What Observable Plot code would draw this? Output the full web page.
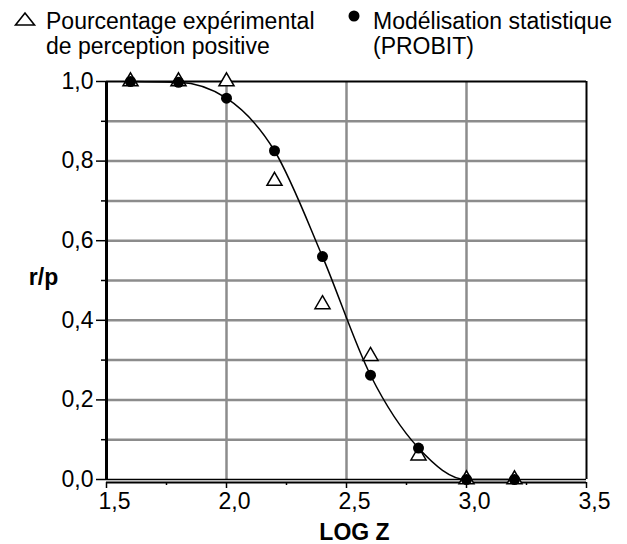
<!DOCTYPE html>
<html>
<head>
<meta charset="utf-8">
<script src="https://cdn.jsdelivr.net/npm/d3@7"></script>
<script src="https://cdn.jsdelivr.net/npm/@observablehq/plot@0.6"></script>
<style>
  html, body { margin: 0; padding: 0; background: #fff; }
  #wrap { position: relative; width: 627px; height: 544px; font-family: "Liberation Sans", Arial, sans-serif; }
  #legend { position: absolute; left: 0; top: 0; width: 627px; height: 60px; font-size: 23px; line-height: 25px; color: #000; z-index: 2; }
  .lt { position: absolute; top: 9px; white-space: nowrap; }
</style>
</head>
<body>
<div id="wrap">
  <div id="legend">
    <svg style="position:absolute;left:0;top:0" width="60" height="40">
      <polygon points="15.5,25 25,13 34.5,25" fill="#fff" stroke="#000" stroke-width="1.6"/>
    </svg>
    <div class="lt" id="l1" style="left:46px"></div>
    <svg style="position:absolute;left:340px;top:0" width="30" height="40">
      <circle cx="14" cy="16" r="5.5" fill="#000"/>
    </svg>
    <div class="lt" id="l2" style="left:373px"></div>
  </div>
  <div id="chart"></div>
</div>
<script>
// ---- data ----
const logZ = [1.6, 1.8, 2.0, 2.2, 2.4, 2.6, 2.8, 3.0, 3.2];
const experimental = [1.0, 1.0, 1.0, 0.75, 0.44, 0.31, 0.06, 0.0, 0.0];
const probit = [1.0, 0.998, 0.958, 0.826, 0.56, 0.262, 0.079, 0.0, 0.0];

const seriesNames = ["Pourcentage expérimental\nde perception positive", "Modélisation statistique\n(PROBIT)"];
const xTicks = [1.5, 2.0, 2.5, 3.0, 3.5];
const xTickLabels = ["1,5", "2,0", "2,5", "3,0", "3,5"];
const xMinorTicks = [1.75, 2.25, 2.75, 3.25];
const yTicks = [0, 0.2, 0.4, 0.6, 0.8, 1.0];
const yTickLabels = ["0,0", "0,2", "0,4", "0,6", "0,8", "1,0"];
const yMinorTicks = [0.1, 0.3, 0.5, 0.7, 0.9];
const yGrid = [0.1, 0.2, 0.3, 0.4, 0.5, 0.6, 0.7, 0.8, 0.9];
const xGrid = [2.0, 2.5, 3.0];
const xTitle = "LOG Z";
const yTitle = "r/p";

document.getElementById("l1").innerText = seriesNames[0];
document.getElementById("l2").innerText = seriesNames[1];

const rows = logZ.map((x, i) => ({x, exp: experimental[i], mod: probit[i]}));
const gridColor = "#8c8c8c";
const fs = 23;

const chart = Plot.plot({
  width: 627,
  height: 544,
  marginTop: 81,
  marginBottom: 65,
  marginLeft: 106,
  marginRight: 41,
  style: {fontFamily: "'Liberation Sans', Arial, sans-serif", fontSize: fs + "px", color: "#000", background: "transparent"},
  x: {domain: [1.5, 3.5]},
  y: {domain: [0, 1]},
  marks: [
    // grid
    Plot.ruleY(yGrid, {stroke: gridColor, strokeWidth: 2.5}),
    Plot.ruleX(xGrid, {stroke: gridColor, strokeWidth: 2.5}),
    // frame
    Plot.ruleY([1], {stroke: "#000", strokeWidth: 2}),
    Plot.ruleX([3.5], {stroke: "#000", strokeWidth: 2}),
    Plot.ruleY([0], {stroke: "#000", strokeWidth: 1.5}),
    Plot.ruleY([0], {stroke: "#000", strokeWidth: 2, dy: 3}),
    Plot.ruleX([1.5], {stroke: "#000", strokeWidth: 3}),
    // x axis ticks
    Plot.axisX({ticks: xTicks, tickSize: 6, tickFormat: () => "", dy: 3, strokeWidth: 1.5, label: null}),
    Plot.axisX({ticks: xMinorTicks, tickSize: 3, tickFormat: () => "", dy: 3, strokeWidth: 1.5, label: null}),
    Plot.text(xTicks, {x: d => d, text: (d, i) => xTickLabels[i], frameAnchor: "bottom", lineAnchor: "top", dy: 13, dx: 8, fontSize: fs}),
    // y axis
    Plot.axisY({ticks: yTicks, tickSize: 10, tickPadding: 3, tickFormat: (d, i) => yTickLabels[i], strokeWidth: 1.5, fontSize: fs, label: null}),
    Plot.axisY({ticks: yMinorTicks, tickSize: 5, tickFormat: () => "", strokeWidth: 1.5, label: null}),
    // titles
    Plot.text([xTitle], {frameAnchor: "bottom", lineAnchor: "top", dy: 44, dx: 8, fontWeight: "bold", fontSize: fs}),
    Plot.text([yTitle], {frameAnchor: "left", textAnchor: "middle", dx: -63, dy: -3, fontWeight: "bold", fontSize: fs}),
    // data
    Plot.dot(rows, {x: "x", y: "exp", symbol: "triangle", r: 5.6, fill: "#fff", stroke: "#000", strokeWidth: 1.5}),
    Plot.line(rows, {x: "x", y: "mod", curve: "monotone-x", stroke: "#000", strokeWidth: 1.5}),
    Plot.dot(rows, {x: "x", y: "mod", r: 5.5, fill: "#000"})
  ]
});
document.getElementById("chart").appendChild(chart);
</script>
</body>
</html>
